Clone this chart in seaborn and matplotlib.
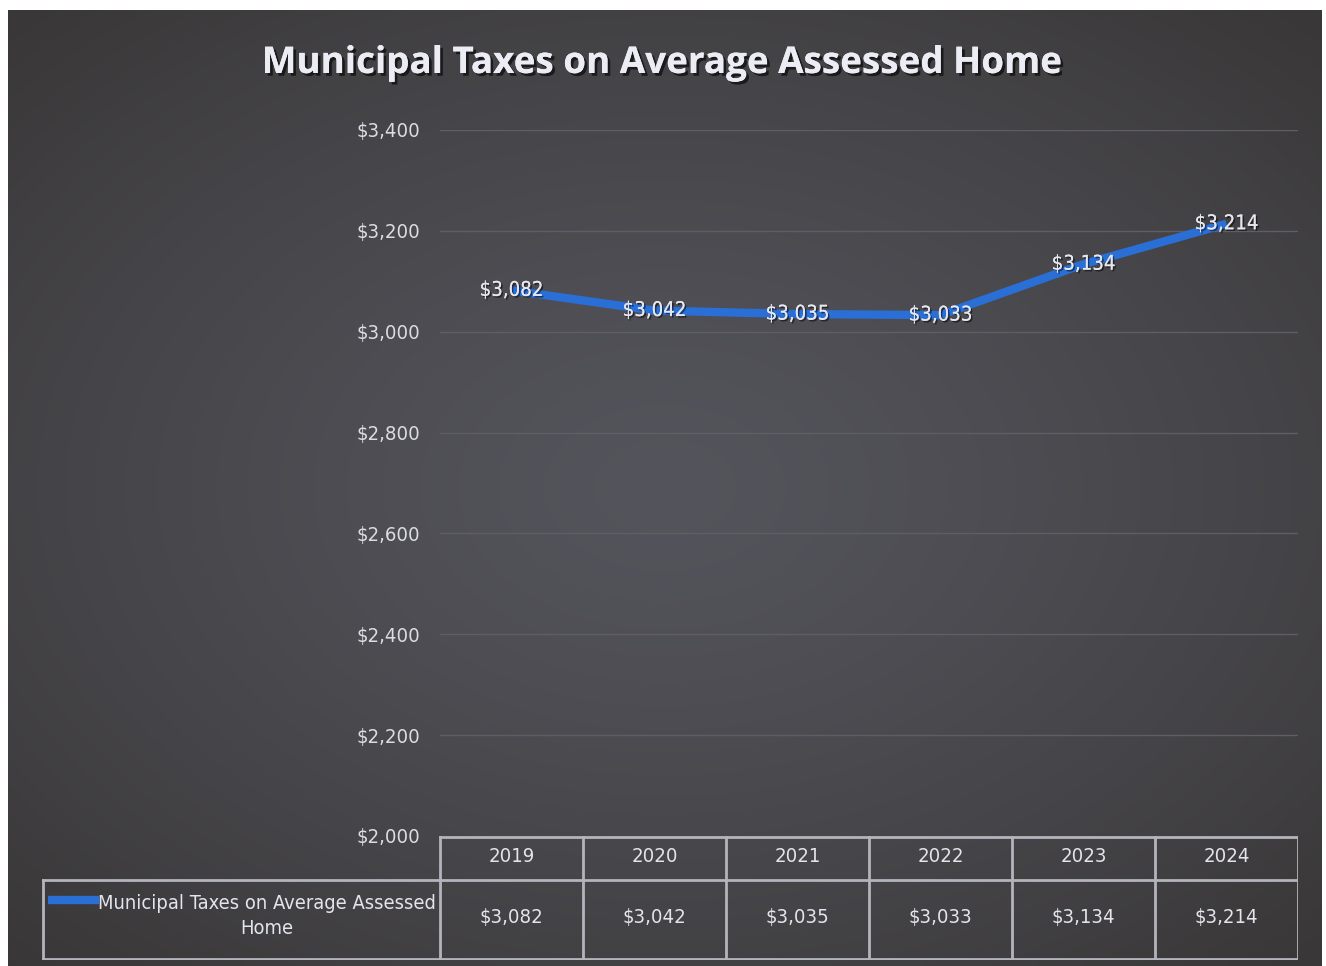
import numpy as np
import pandas as pd
import matplotlib
matplotlib.use("Agg")
import matplotlib.pyplot as plt
import matplotlib.patheffects as pe
import seaborn as sns

# Data
years = ["2019", "2020", "2021", "2022", "2023", "2024"]
taxes = [3082, 3042, 3035, 3033, 3134, 3214]
series_name = "Municipal Taxes on Average Assessed Home"
y_ticks = [2000, 2200, 2400, 2600, 2800, 3000, 3200, 3400]

df = pd.DataFrame({"year": years, "tax": taxes})
df["pos"] = np.arange(len(years))

sns.set_theme(style="dark")
plt.rcParams["font.family"] = ["DejaVu Sans"]
plt.rcParams["font.stretch"] = "condensed"

W, H = 1326, 966
fig = plt.figure(figsize=(W / 100, H / 100), dpi=100)
fig.patch.set_facecolor("white")

def fx(px):
    return px / W

def fy(py):
    return 1 - py / H

TXT = "#e4e4ec"
BLUE = "#2a6fd6"
FS = 14.6

# Dark slide background with a soft radial gradient
bg = fig.add_axes([fx(8), 0, fx(1322 - 8), 1 - 10 / H])
gx, gy = np.meshgrid(np.linspace(-1, 1, 400), np.linspace(-1, 1, 300))
r = np.sqrt((gx * 0.9) ** 2 + (gy * 0.95) ** 2)
t = np.clip(r / 1.3, 0, 1) ** 1.3
inner = np.array([0x54, 0x54, 0x5c]) / 255
outer = np.array([0x39, 0x37, 0x37]) / 255
img = inner[None, None, :] * (1 - t[..., None]) + outer[None, None, :] * t[..., None]
bg.imshow(img, aspect="auto", extent=[0, 1, 0, 1], interpolation="bilinear")
bg.set_axis_off()

# Main plot area
left, right, top, bottom = 440, 1298, 130, 836
ax = fig.add_axes([fx(left), fy(bottom), fx(right - left), (bottom - top) / H])
ax.set_facecolor("none")
ax.patch.set_alpha(0)

sns.lineplot(data=df, x="pos", y="tax", ax=ax, color=BLUE, linewidth=6,
             solid_capstyle="butt", legend=False, zorder=3)

ax.set_xlim(-0.5, len(years) - 0.5)
ax.set_ylim(y_ticks[0], y_ticks[-1])
ax.set_yticks(y_ticks)
ax.set_yticklabels([f"${v:,}" for v in y_ticks], color="#dcdce4", fontsize=FS)
ax.tick_params(axis="y", length=0, pad=14.4)
ax.set_xticks([])
ax.set_xlabel("")
ax.set_ylabel("")
for s in ax.spines.values():
    s.set_visible(False)
ax.grid(False)
for v in y_ticks[1:]:
    ax.axhline(v, color="#5e5e64", linewidth=1.0, zorder=1)

shadow = [pe.withSimplePatchShadow(offset=(1.2, -1.2), shadow_rgbFace="black", alpha=0.5), pe.Normal()]
for p, v in zip(df["pos"], df["tax"]):
    ax.text(p, v, f"${v:,}", ha="center", va="center", color="#e6e6ee",
            fontsize=FS, zorder=4, path_effects=shadow)

# Title
fig.text(fx(661), fy(63), series_name, ha="center", va="center",
         fontsize=26.5, fontweight="bold", color="#ececf4",
         family=["Open Sans", "DejaVu Sans"], fontstretch="normal",
         path_effects=[pe.withSimplePatchShadow(offset=(2, -2), shadow_rgbFace="black", alpha=0.6), pe.Normal()])

# Data table under the chart
tleft, tbot = 42, 960
tab = fig.add_axes([fx(tleft), fy(tbot), fx(right - tleft), (tbot - bottom) / H])
tab.set_facecolor("none")
tab.set_axis_off()
unit = (right - left) / len(years)
x0 = -0.5 - (left - tleft) / unit
tab.set_xlim(x0, len(years) - 0.5)
tab.set_ylim(tbot - bottom, 0)

line_kw = dict(color="#b4b4bc", linewidth=2.0, solid_capstyle="projecting")
hdr = 880 - bottom
tot = tbot - bottom
# horizontal borders
tab.plot([-0.5, len(years) - 0.5], [1, 1], **line_kw)
tab.plot([x0 + 0.01, len(years) - 0.5], [hdr, hdr], **line_kw)
tab.plot([x0 + 0.01, len(years) - 0.5], [tot - 1, tot - 1], **line_kw)
# vertical borders
tab.plot([x0 + 0.01, x0 + 0.01], [hdr, tot - 1], **line_kw)
for i in range(len(years) + 1):
    tab.plot([i - 0.5, i - 0.5], [1, tot - 1], **line_kw)

for i, (yr, v) in enumerate(zip(years, taxes)):
    tab.text(i, (857 - bottom), yr, ha="center", va="center", color=TXT, fontsize=FS)
    tab.text(i, (918 - bottom), f"${v:,}", ha="center", va="center", color=TXT, fontsize=FS)

# Legend key inside the table
sw_y = 900 - bottom
tab.plot([x0 + 6 / unit, x0 + 57 / unit], [sw_y, sw_y], color=BLUE, linewidth=6,
         solid_capstyle="butt")
tab.text(x0 + (267 - tleft) / unit, (916 - bottom), "Municipal Taxes on Average Assessed\nHome",
         ha="center", va="center", multialignment="center", color=TXT,
         fontsize=14.4, linespacing=1.45)

fig.savefig("out.png", dpi=100)
